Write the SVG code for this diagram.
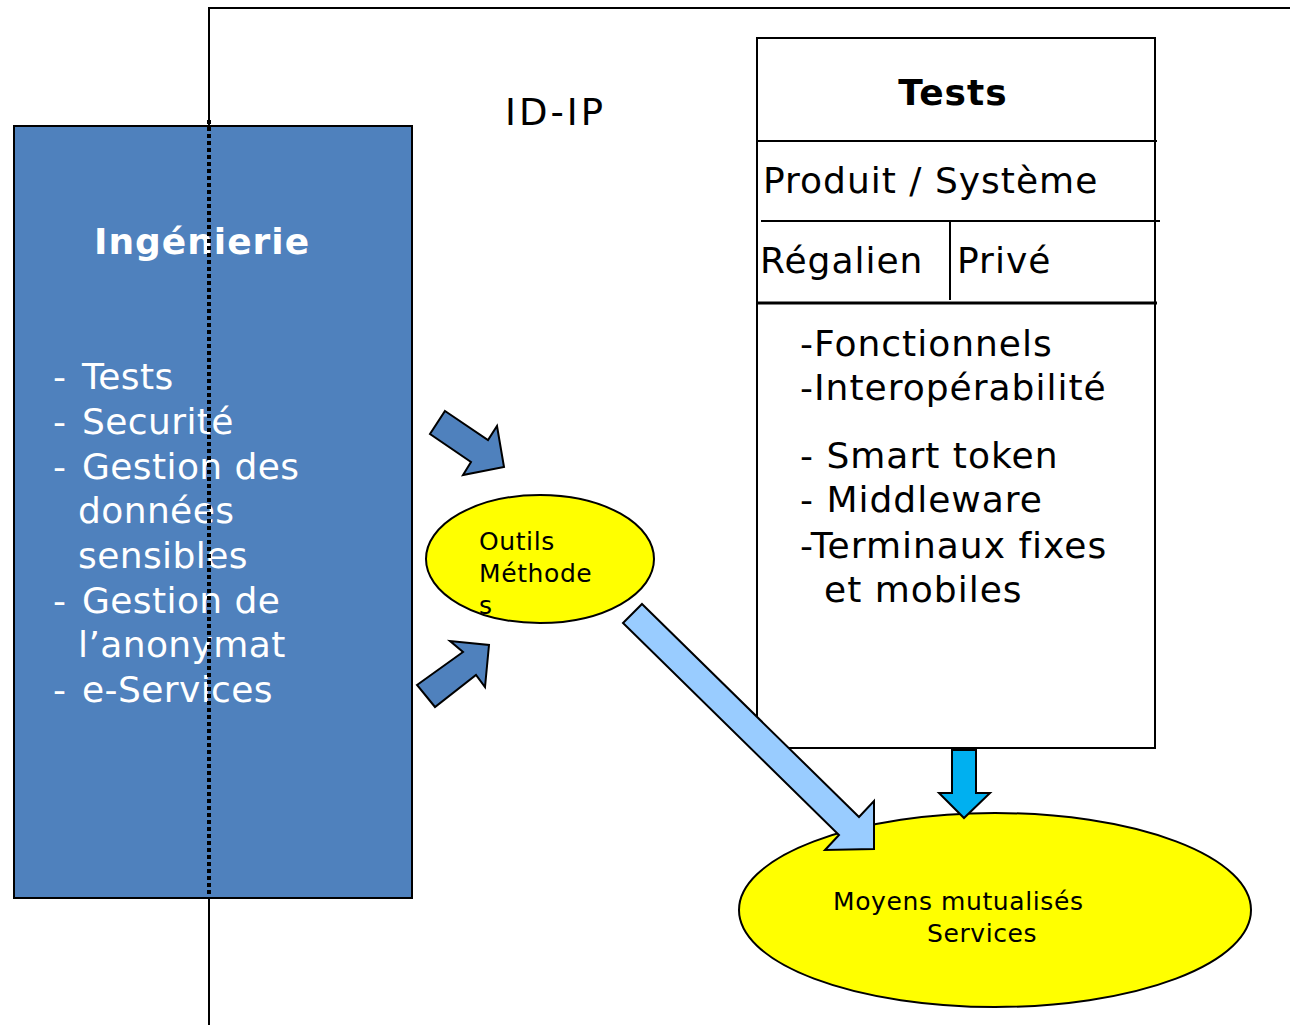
<svg xmlns="http://www.w3.org/2000/svg" width="1290" height="1025" viewBox="0 0 1290 1025">
<style>
text{font-family:"DejaVu Sans",Verdana,sans-serif}
.w{fill:#fff;font-size:36px;letter-spacing:0.4px}
.b{fill:#000;font-size:36px;letter-spacing:1px}
.s{fill:#000;font-size:25px;letter-spacing:0.6px}
.ln{stroke:#000;stroke-width:2;fill:none}
</style>
<rect width="1290" height="1025" fill="#fff"/>
<g id="frame">
<polyline class="ln" points="1290,8 209,8 209,126"/>
<line class="ln" x1="209" y1="898" x2="209" y2="1025"/>
</g>
<g id="ingenierie">
<rect x="14" y="126" width="398" height="772" fill="#4f81bd" stroke="#000" stroke-width="2"/>
<text x="94" y="254" fill="#fff" font-size="36" font-weight="bold" letter-spacing="1">Ingénierie</text>
<text class="w" x="53" y="389" xml:space="preserve">- <tspan x="82">Tests</tspan></text>
<text class="w" x="53" y="434" xml:space="preserve">- <tspan x="82">Securité</tspan></text>
<text class="w" x="53" y="479" xml:space="preserve">- <tspan x="82">Gestion des</tspan></text>
<text class="w" x="78" y="523">données</text>
<text class="w" x="78" y="568">sensibles</text>
<text class="w" x="53" y="613" xml:space="preserve">- <tspan x="82">Gestion de</tspan></text>
<text class="w" x="78" y="657">l’anonymat</text>
<text class="w" x="53" y="702" xml:space="preserve">- <tspan x="82">e-Services</tspan></text>
<line x1="209" y1="120" x2="209" y2="898" stroke="#000" stroke-width="4" stroke-dasharray="4 3"/>
</g>
<g id="idip">
<text x="505" y="125" font-size="37" letter-spacing="3">ID-IP</text>
</g>
<g id="tests">
<rect x="757" y="38" width="398" height="710" fill="#fff" stroke="#000" stroke-width="2"/>
<line class="ln" x1="757" y1="141" x2="1157" y2="141"/>
<line class="ln" x1="761" y1="221" x2="1160" y2="221"/>
<line class="ln" x1="950" y1="222" x2="950" y2="300"/>
<line x1="757" y1="303" x2="1157" y2="303" stroke="#000" stroke-width="3"/>
<text x="953" y="105" font-size="36" font-weight="bold" text-anchor="middle" letter-spacing="1">Tests</text>
<text class="b" x="763" y="193" letter-spacing="1.2">Produit / Système</text>
<text class="b" x="760" y="273">Régalien</text>
<text class="b" x="957" y="273">Privé</text>
<text class="b" x="800" y="356">-Fonctionnels</text>
<text class="b" x="800" y="400">-Interopérabilité</text>
<text class="b" x="800" y="468" xml:space="preserve">- Smart token</text>
<text class="b" x="800" y="512" xml:space="preserve">- Middleware</text>
<text class="b" x="800" y="558">-Terminaux fixes</text>
<text class="b" x="824" y="602">et mobiles</text>
</g>
<g id="outils">
<ellipse cx="540" cy="559" rx="114" ry="64" fill="#ffff00" stroke="#000" stroke-width="2"/>
<text class="s" x="479" y="550">Outils</text>
<text class="s" x="479" y="582">Méthode</text>
<text class="s" x="479" y="614">s</text>
</g>
<g id="moyens">
<ellipse cx="995" cy="910" rx="256" ry="97" fill="#ffff00" stroke="#000" stroke-width="2"/>
<text class="s" x="833" y="910" font-size="26" letter-spacing="1.2">Moyens mutualisés</text>
<text class="s" x="927" y="942" font-size="26" letter-spacing="1">Services</text>
</g>
<g id="connectors" stroke="#000" stroke-width="2" stroke-linejoin="miter">
<polygon points="445,411 488,440 497,426 504,467 463,475 471,462 430,434" fill="#4f81bd"/>
<polygon points="417,685 463,652 450,641 489,645 485,687 476,675 435,707" fill="#4f81bd"/>
<polygon points="642,604 859,817 874,801 874,849 825,850 839,835 623,623" fill="#99ccff"/>
<polygon points="952,750 976,750 976,793 990,793 964,818 939,793 952,793" fill="#00b0f0"/>
</g>
</svg>
